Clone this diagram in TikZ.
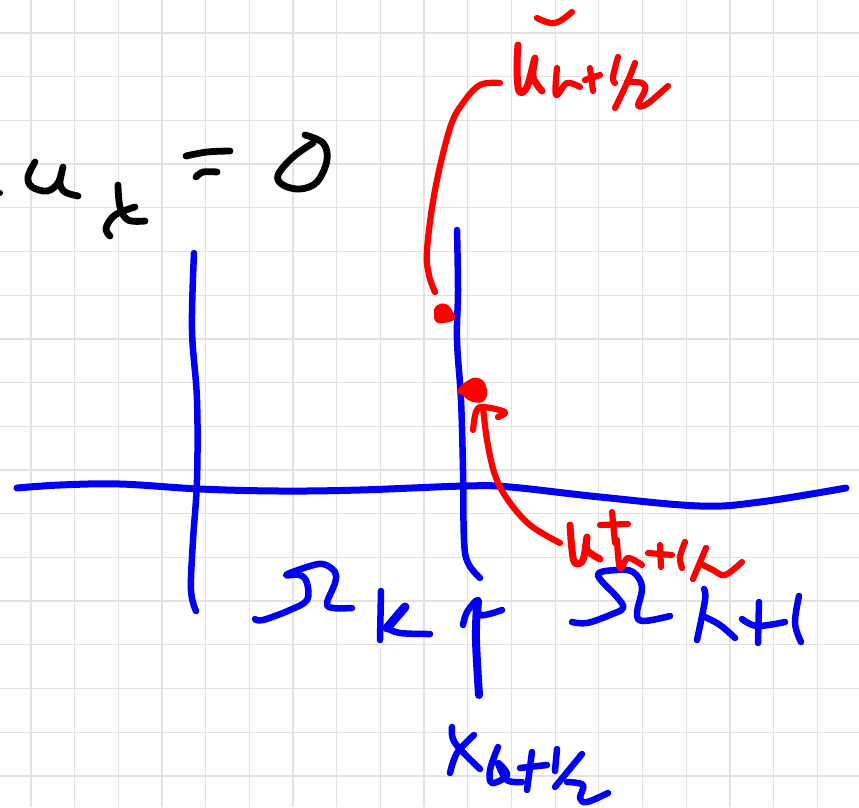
\documentclass[tikz,border=0pt]{standalone}
\definecolor{inkblue}{RGB}{0,0,245}
\definecolor{inkred}{RGB}{255,0,0}
\definecolor{gridc}{RGB}{226,226,226}
\tikzset{
  gridline/.style={gridc,line width=1.3pt},
  pen/.style={line width=#1,line cap=round,line join=round},
  bluepen/.style={draw=inkblue,pen=6.5pt},
  redpen/.style={draw=inkred,pen=6.2pt},
  blackpen/.style={draw=black,pen=6.8pt},
}
\newcommand{\ink}[2]{\draw[#1] plot[smooth,tension=0.6] coordinates {#2};}
\begin{document}
\begin{tikzpicture}[x=1pt,y=-1pt]
\useasboundingbox (0,0) rectangle (859,807);
\fill[white] (0,0) rectangle (859,807);
% grid
\foreach \k in {0,...,18} {
  \draw[gridline] ({31+43.68*\k},0) -- ({31+43.68*\k},807);
  \draw[gridline] (0,{33+43.7*\k}) -- (859,{33+43.7*\k});
}
% black: u_x = 0
\fill (0,193) circle (3pt);
\ink{blackpen}{(35,162)(28,177)(32,187)(47,191)(58,183)(63,167)(60,183)(65,192)(78,196)}
\ink{blackpen}{(118,185)(120,207)(128,220)(145,221)}
\ink{blackpen}{(135,207)(115,215)(106,228)(110,236)}
\ink{blackpen}{(186,156)(207,152)(230,151)}
\ink{blackpen}{(196,177)(203,172)(217,172)}
\ink{blackpen}{(313,143)(293,157)(278,175)(283,185)(300,189)(317,182)(327,160)(323,143)(305,135)}
% blue axes
\ink{bluepen}{(194,253)(192,330)(197,400)(197,480)(193,540)(191,590)(196,611)}
\ink{bluepen}{(457,230)(458,290)(457,340)(461,400)(463,470)(464,540)(468,563)(480,578)}
\ink{bluepen,line width=7pt}{(17,488)(60,485)(120,484)(200,489)(280,491)(360,490)(465,486)(510,487)(600,497)(700,506)(760,502)(846,488)}
% tick arrow
\ink{bluepen,line width=8pt}{(479,695)(476,640)(477,605)}
\ink{bluepen}{(463,625)(467,612)(478,600)(480,615)(502,610)}
% Omega k
\ink{bluepen}{(255,619)(263,620)(290,610)(307,600)(307,583)(300,575)(286,575)(307,567)(323,564)(335,572)(335,583)(327,603)(333,608)(352,608)}
\ink{bluepen}{(381,591)(380,640)}
\ink{bluepen,line width=9pt}{(405,607)(387,628)}
\ink{bluepen}{(387,628)(400,633)(430,634)}
% Omega k+1
\ink{bluepen}{(572,622)(587,623)(610,615)(623,608)(617,597)(598,575)(617,570)(633,572)(642,587)(637,613)(643,621)(670,616)}
\ink{bluepen}{(704,589)(705,600)(697,640)}
\ink{bluepen}{(705,617)(720,625)(735,638)}
\ink{bluepen}{(742,619)(757,626)(785,622)}
\ink{bluepen}{(759,602)(758,643)}
\ink{bluepen}{(799,596)(795,623)(801,642)}
% x_{k+1/2}
\ink{bluepen}{(452,727)(455,743)(480,769)}
\ink{bluepen}{(474,735)(457,753)(450,773)}
\ink{bluepen}{(498,747)(490,770)(492,783)(507,775)(498,763)(507,780)(522,782)}
\ink{bluepen}{(520,768)(547,765)}
\ink{bluepen}{(532,752)(527,790)}
\ink{bluepen}{(557,749)(555,771)}
\ink{bluepen}{(582,754)(555,787)}
\ink{bluepen}{(567,782)(583,785)(580,798)(587,802)(608,793)}
% red top label
\ink{redpen}{(537,18)(550,23)(560,21)(572,12)}
\ink{redpen,line width=7pt}{(518,45)(517,67)(519,91)(527,87)(535,58)(533,77)(542,91)}
\ink{redpen}{(557,68)(556,95)(567,83)(580,87)}
\ink{redpen}{(585,80)(600,75)}
\ink{redpen}{(590,68)(593,91)}
\ink{redpen}{(618,57)(613,77)(615,83)}
\ink{redpen}{(635,63)(627,83)(615,108)}
\ink{redpen}{(627,82)(642,83)(645,90)(638,105)(647,104)(668,86)}
% red connector top
\ink{redpen}{(500,83)(480,85)(463,103)(450,128)(435,190)(427,250)(429,275)(435,292)}
\fill[inkred] plot[smooth cycle,tension=0.8] coordinates {(436,306)(446,304)(453,312)(455,319)(444,323)(436,322)(434,314)};
% red dot 2 + arrow
\fill[inkred] plot[smooth cycle,tension=0.8] coordinates {(457,391)(467,381)(478,378)(486,386)(485,400)(473,402)(462,395)};
\ink{redpen}{(560,543)(530,525)(508,500)(495,475)(487,440)(483,407)}
\ink{redpen}{(473,430)(476,412)(483,407)(505,412)(498,417)}
% u+ label
\ink{redpen,line width=7pt}{(570,525)(572,550)(575,563)(583,560)(587,537)(587,550)(600,559)}
\ink{redpen}{(600,525)(628,524)}
\ink{redpen}{(612,512)(615,543)}
\ink{redpen}{(617,540)(620,568)(628,558)(642,565)}
\ink{redpen}{(648,553)(672,555)}
\ink{redpen}{(660,545)(661,567)}
\ink{redpen}{(685,542)(680,557)(682,568)}
\ink{redpen}{(706,548)(693,579)}
\ink{redpen}{(703,565)(713,570)(725,575)(742,562)}
\end{tikzpicture}
\end{document}
